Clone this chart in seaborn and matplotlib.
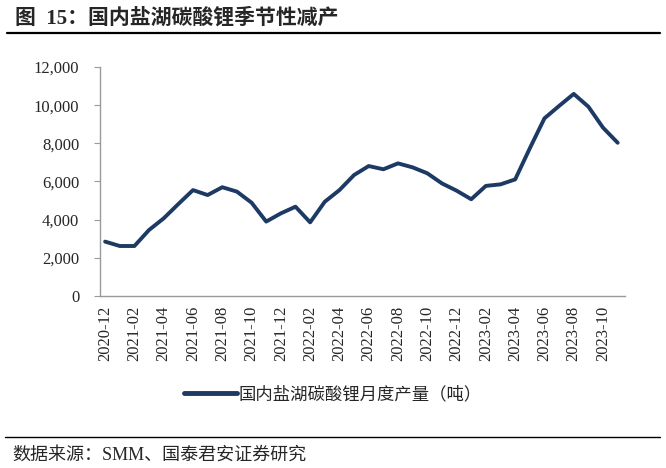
import matplotlib
matplotlib.use('Agg')
import matplotlib.pyplot as plt
import seaborn as sns
import pandas as pd
from matplotlib.ticker import FuncFormatter

# --- datos: produccion mensual de carbonato de litio (salmuera, China) ---
months = ['2020-12',
          '2021-01', '2021-02', '2021-03', '2021-04', '2021-05', '2021-06',
          '2021-07', '2021-08', '2021-09', '2021-10', '2021-11', '2021-12',
          '2022-01', '2022-02', '2022-03', '2022-04', '2022-05', '2022-06',
          '2022-07', '2022-08', '2022-09', '2022-10', '2022-11', '2022-12',
          '2023-01', '2023-02', '2023-03', '2023-04', '2023-05', '2023-06',
          '2023-07', '2023-08', '2023-09', '2023-10', '2023-11']
output = [2850,
          2620, 2620, 3460, 4070, 4820, 5550,
          5290, 5700, 5470, 4890, 3900, 4330,
          4680, 3860, 4940, 5550, 6340, 6810,
          6640, 6950, 6740, 6430, 5900, 5520,
          5070, 5770, 5850, 6110, 7740, 9310,
          9960, 10590, 9920, 8820, 8030]
y_ticks = [0, 2000, 4000, 6000, 8000, 10000, 12000]

title = '图  15：国内盐湖碳酸锂季节性减产'
series_name = '国内盐湖碳酸锂月度产量（吨）'
source = '数据来源：SMM、国泰君安证券研究'

df = pd.DataFrame({'month': months, 'output': output})
df['pos'] = range(len(df))

sns.set_style('white')
FONTS = ['Liberation Serif', 'Noto Sans CJK SC']
plt.rcParams['font.family'] = FONTS
plt.rcParams['axes.unicode_minus'] = False

LINE = '#1C3A63'
AXIS = '#9A9A9A'

fig = plt.figure(figsize=(6.66, 4.68), dpi=100)
ax = fig.add_axes([100 / 666, 1 - 296 / 468, 525 / 666, 229 / 468])

sns.lineplot(data=df, x='pos', y='output', ax=ax, color=LINE, linewidth=2.8,
             label=series_name, solid_capstyle='round', solid_joinstyle='round')

ax.set_ylim(0, 12000)
ax.set_yticks(y_ticks)
ax.yaxis.set_major_formatter(FuncFormatter(lambda v, p: f'{int(v):,}'))
ax.set_xlim(-0.35, len(months) - 0.5)
ax.set_xticks(df['pos'][::2])
ax.set_xticklabels(df['month'][::2], rotation=90)
ax.set_xlabel('')
ax.set_ylabel('')

for s in ['top', 'right']:
    ax.spines[s].set_visible(False)
for s in ['left', 'bottom']:
    ax.spines[s].set_color(AXIS)
    ax.spines[s].set_linewidth(1.0)
ax.tick_params(axis='y', length=4, color=AXIS, labelsize=12, pad=11, direction='out', left=True)
ax.tick_params(axis='x', length=0, labelsize=12, pad=7)

leg = ax.legend(loc='center', bbox_to_anchor=(333 / 666, 1 - 395 / 468),
                bbox_transform=fig.transFigure, frameon=False,
                handlelength=3.0, handletextpad=0.1, prop={'family': FONTS, 'size': 12.5})
for h in leg.get_lines():
    h.set_linewidth(3.5)

# titulo y fuente
fig.text(15 / 666, 1 - 18 / 468, title, fontsize=15, fontweight='bold',
         ha='left', va='center', family=FONTS)
fig.add_artist(plt.Line2D([7 / 666, 660 / 666], [1 - 33 / 468, 1 - 33 / 468],
                          color='black', linewidth=1.6, transform=fig.transFigure))
fig.add_artist(plt.Line2D([5 / 666, 660 / 666], [1 - 437 / 468, 1 - 437 / 468],
                          color='black', linewidth=1.0, transform=fig.transFigure))
fig.text(12 / 666, 1 - 455 / 468, source, fontsize=13,
         ha='left', va='center', family=FONTS)

fig.savefig('out.png', dpi=100)
